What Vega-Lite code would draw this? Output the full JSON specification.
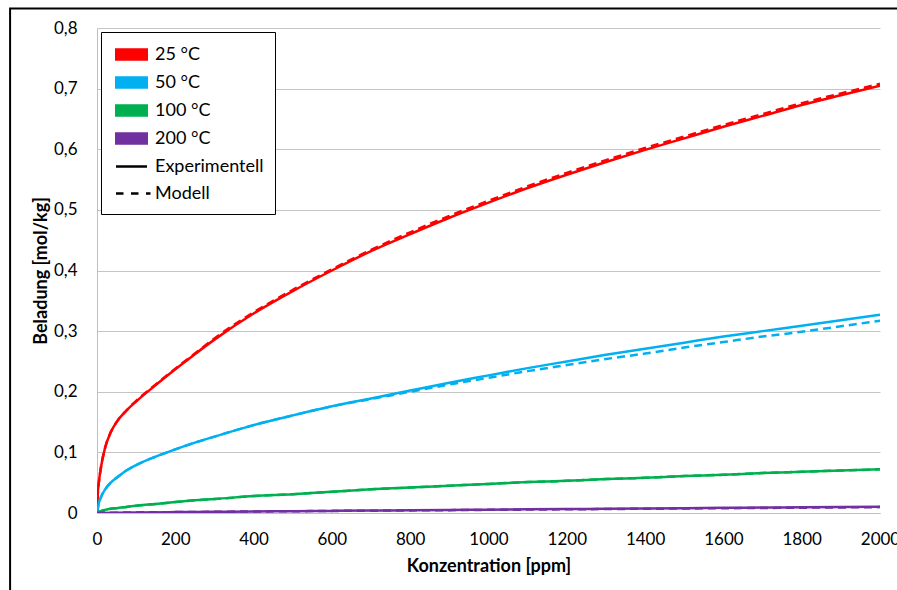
{
  "$schema": "https://vega.github.io/schema/vega-lite/v6.json",
  "width": 783,
  "height": 485,
  "autosize": "none",
  "padding": {"left": 97, "top": 28, "right": 17, "bottom": 77},
  "background": "white",
  "config": {
    "view": {"stroke": null},
    "font": "Lato",
    "axis": {
      "labelFont": "Lato",
      "labelFontSize": 17,
      "labelColor": "#000000",
      "titleFont": "Lato",
      "titleFontSize": 18,
      "titleFontWeight": "bold",
      "titleColor": "#000000",
      "ticks": false,
      "domainColor": "#bfbfbf",
      "domainWidth": 1,
      "gridColor": "#c4c4c4",
      "gridWidth": 1
    }
  },
  "datasets": {
    "kurven": [
      {"c": 0, "q": 0, "T": "25 °C", "typ": "Experimentell"},
      {"c": 2, "q": 0.032, "T": "25 °C", "typ": "Experimentell"},
      {"c": 5, "q": 0.052, "T": "25 °C", "typ": "Experimentell"},
      {"c": 10, "q": 0.075, "T": "25 °C", "typ": "Experimentell"},
      {"c": 20, "q": 0.106, "T": "25 °C", "typ": "Experimentell"},
      {"c": 35, "q": 0.133, "T": "25 °C", "typ": "Experimentell"},
      {"c": 50, "q": 0.15, "T": "25 °C", "typ": "Experimentell"},
      {"c": 75, "q": 0.169, "T": "25 °C", "typ": "Experimentell"},
      {"c": 100, "q": 0.184, "T": "25 °C", "typ": "Experimentell"},
      {"c": 150, "q": 0.211, "T": "25 °C", "typ": "Experimentell"},
      {"c": 200, "q": 0.237, "T": "25 °C", "typ": "Experimentell"},
      {"c": 250, "q": 0.262, "T": "25 °C", "typ": "Experimentell"},
      {"c": 300, "q": 0.286, "T": "25 °C", "typ": "Experimentell"},
      {"c": 400, "q": 0.329, "T": "25 °C", "typ": "Experimentell"},
      {"c": 500, "q": 0.366, "T": "25 °C", "typ": "Experimentell"},
      {"c": 600, "q": 0.4, "T": "25 °C", "typ": "Experimentell"},
      {"c": 700, "q": 0.432, "T": "25 °C", "typ": "Experimentell"},
      {"c": 800, "q": 0.46, "T": "25 °C", "typ": "Experimentell"},
      {"c": 900, "q": 0.487, "T": "25 °C", "typ": "Experimentell"},
      {"c": 1000, "q": 0.512, "T": "25 °C", "typ": "Experimentell"},
      {"c": 1100, "q": 0.536, "T": "25 °C", "typ": "Experimentell"},
      {"c": 1200, "q": 0.558, "T": "25 °C", "typ": "Experimentell"},
      {"c": 1300, "q": 0.579, "T": "25 °C", "typ": "Experimentell"},
      {"c": 1400, "q": 0.599, "T": "25 °C", "typ": "Experimentell"},
      {"c": 1500, "q": 0.618, "T": "25 °C", "typ": "Experimentell"},
      {"c": 1600, "q": 0.637, "T": "25 °C", "typ": "Experimentell"},
      {"c": 1700, "q": 0.655, "T": "25 °C", "typ": "Experimentell"},
      {"c": 1800, "q": 0.673, "T": "25 °C", "typ": "Experimentell"},
      {"c": 1900, "q": 0.689, "T": "25 °C", "typ": "Experimentell"},
      {"c": 2000, "q": 0.705, "T": "25 °C", "typ": "Experimentell"},

      {"c": 0, "q": 0, "T": "50 °C", "typ": "Experimentell"},
      {"c": 5, "q": 0.017, "T": "50 °C", "typ": "Experimentell"},
      {"c": 10, "q": 0.026, "T": "50 °C", "typ": "Experimentell"},
      {"c": 20, "q": 0.038, "T": "50 °C", "typ": "Experimentell"},
      {"c": 35, "q": 0.05, "T": "50 °C", "typ": "Experimentell"},
      {"c": 50, "q": 0.058, "T": "50 °C", "typ": "Experimentell"},
      {"c": 75, "q": 0.07, "T": "50 °C", "typ": "Experimentell"},
      {"c": 100, "q": 0.079, "T": "50 °C", "typ": "Experimentell"},
      {"c": 150, "q": 0.093, "T": "50 °C", "typ": "Experimentell"},
      {"c": 200, "q": 0.105, "T": "50 °C", "typ": "Experimentell"},
      {"c": 250, "q": 0.116, "T": "50 °C", "typ": "Experimentell"},
      {"c": 300, "q": 0.126, "T": "50 °C", "typ": "Experimentell"},
      {"c": 400, "q": 0.145, "T": "50 °C", "typ": "Experimentell"},
      {"c": 500, "q": 0.161, "T": "50 °C", "typ": "Experimentell"},
      {"c": 600, "q": 0.176, "T": "50 °C", "typ": "Experimentell"},
      {"c": 700, "q": 0.189, "T": "50 °C", "typ": "Experimentell"},
      {"c": 800, "q": 0.202, "T": "50 °C", "typ": "Experimentell"},
      {"c": 900, "q": 0.215, "T": "50 °C", "typ": "Experimentell"},
      {"c": 1000, "q": 0.227, "T": "50 °C", "typ": "Experimentell"},
      {"c": 1100, "q": 0.239, "T": "50 °C", "typ": "Experimentell"},
      {"c": 1200, "q": 0.25, "T": "50 °C", "typ": "Experimentell"},
      {"c": 1300, "q": 0.261, "T": "50 °C", "typ": "Experimentell"},
      {"c": 1400, "q": 0.271, "T": "50 °C", "typ": "Experimentell"},
      {"c": 1500, "q": 0.281, "T": "50 °C", "typ": "Experimentell"},
      {"c": 1600, "q": 0.291, "T": "50 °C", "typ": "Experimentell"},
      {"c": 1700, "q": 0.3, "T": "50 °C", "typ": "Experimentell"},
      {"c": 1800, "q": 0.309, "T": "50 °C", "typ": "Experimentell"},
      {"c": 1900, "q": 0.318, "T": "50 °C", "typ": "Experimentell"},
      {"c": 2000, "q": 0.327, "T": "50 °C", "typ": "Experimentell"},

      {"c": 0, "q": 0, "T": "100 °C", "typ": "Experimentell"},
      {"c": 5, "q": 0.002, "T": "100 °C", "typ": "Experimentell"},
      {"c": 10, "q": 0.003, "T": "100 °C", "typ": "Experimentell"},
      {"c": 20, "q": 0.005, "T": "100 °C", "typ": "Experimentell"},
      {"c": 35, "q": 0.007, "T": "100 °C", "typ": "Experimentell"},
      {"c": 50, "q": 0.008, "T": "100 °C", "typ": "Experimentell"},
      {"c": 75, "q": 0.01, "T": "100 °C", "typ": "Experimentell"},
      {"c": 100, "q": 0.012, "T": "100 °C", "typ": "Experimentell"},
      {"c": 150, "q": 0.015, "T": "100 °C", "typ": "Experimentell"},
      {"c": 200, "q": 0.018, "T": "100 °C", "typ": "Experimentell"},
      {"c": 250, "q": 0.021, "T": "100 °C", "typ": "Experimentell"},
      {"c": 300, "q": 0.023, "T": "100 °C", "typ": "Experimentell"},
      {"c": 400, "q": 0.028, "T": "100 °C", "typ": "Experimentell"},
      {"c": 500, "q": 0.031, "T": "100 °C", "typ": "Experimentell"},
      {"c": 600, "q": 0.035, "T": "100 °C", "typ": "Experimentell"},
      {"c": 700, "q": 0.039, "T": "100 °C", "typ": "Experimentell"},
      {"c": 800, "q": 0.042, "T": "100 °C", "typ": "Experimentell"},
      {"c": 900, "q": 0.045, "T": "100 °C", "typ": "Experimentell"},
      {"c": 1000, "q": 0.048, "T": "100 °C", "typ": "Experimentell"},
      {"c": 1100, "q": 0.051, "T": "100 °C", "typ": "Experimentell"},
      {"c": 1200, "q": 0.053, "T": "100 °C", "typ": "Experimentell"},
      {"c": 1300, "q": 0.056, "T": "100 °C", "typ": "Experimentell"},
      {"c": 1400, "q": 0.058, "T": "100 °C", "typ": "Experimentell"},
      {"c": 1500, "q": 0.061, "T": "100 °C", "typ": "Experimentell"},
      {"c": 1600, "q": 0.063, "T": "100 °C", "typ": "Experimentell"},
      {"c": 1700, "q": 0.066, "T": "100 °C", "typ": "Experimentell"},
      {"c": 1800, "q": 0.068, "T": "100 °C", "typ": "Experimentell"},
      {"c": 1900, "q": 0.07, "T": "100 °C", "typ": "Experimentell"},
      {"c": 2000, "q": 0.072, "T": "100 °C", "typ": "Experimentell"},

      {"c": 0, "q": 0, "T": "200 °C", "typ": "Experimentell"},
      {"c": 50, "q": 0.0005, "T": "200 °C", "typ": "Experimentell"},
      {"c": 100, "q": 0.0009, "T": "200 °C", "typ": "Experimentell"},
      {"c": 200, "q": 0.0015, "T": "200 °C", "typ": "Experimentell"},
      {"c": 300, "q": 0.002, "T": "200 °C", "typ": "Experimentell"},
      {"c": 400, "q": 0.0026, "T": "200 °C", "typ": "Experimentell"},
      {"c": 500, "q": 0.003, "T": "200 °C", "typ": "Experimentell"},
      {"c": 600, "q": 0.0035, "T": "200 °C", "typ": "Experimentell"},
      {"c": 700, "q": 0.004, "T": "200 °C", "typ": "Experimentell"},
      {"c": 800, "q": 0.0045, "T": "200 °C", "typ": "Experimentell"},
      {"c": 900, "q": 0.005, "T": "200 °C", "typ": "Experimentell"},
      {"c": 1000, "q": 0.0055, "T": "200 °C", "typ": "Experimentell"},
      {"c": 1100, "q": 0.006, "T": "200 °C", "typ": "Experimentell"},
      {"c": 1200, "q": 0.0065, "T": "200 °C", "typ": "Experimentell"},
      {"c": 1300, "q": 0.007, "T": "200 °C", "typ": "Experimentell"},
      {"c": 1400, "q": 0.0075, "T": "200 °C", "typ": "Experimentell"},
      {"c": 1500, "q": 0.008, "T": "200 °C", "typ": "Experimentell"},
      {"c": 1600, "q": 0.0085, "T": "200 °C", "typ": "Experimentell"},
      {"c": 1700, "q": 0.009, "T": "200 °C", "typ": "Experimentell"},
      {"c": 1800, "q": 0.0095, "T": "200 °C", "typ": "Experimentell"},
      {"c": 1900, "q": 0.01, "T": "200 °C", "typ": "Experimentell"},
      {"c": 2000, "q": 0.0105, "T": "200 °C", "typ": "Experimentell"},

      {"c": 0, "q": 0, "T": "25 °C", "typ": "Modell"},
      {"c": 2, "q": 0.032, "T": "25 °C", "typ": "Modell"},
      {"c": 5, "q": 0.052, "T": "25 °C", "typ": "Modell"},
      {"c": 10, "q": 0.075, "T": "25 °C", "typ": "Modell"},
      {"c": 20, "q": 0.106, "T": "25 °C", "typ": "Modell"},
      {"c": 35, "q": 0.133, "T": "25 °C", "typ": "Modell"},
      {"c": 50, "q": 0.15, "T": "25 °C", "typ": "Modell"},
      {"c": 75, "q": 0.169, "T": "25 °C", "typ": "Modell"},
      {"c": 100, "q": 0.185, "T": "25 °C", "typ": "Modell"},
      {"c": 150, "q": 0.212, "T": "25 °C", "typ": "Modell"},
      {"c": 200, "q": 0.238, "T": "25 °C", "typ": "Modell"},
      {"c": 250, "q": 0.263, "T": "25 °C", "typ": "Modell"},
      {"c": 300, "q": 0.288, "T": "25 °C", "typ": "Modell"},
      {"c": 400, "q": 0.331, "T": "25 °C", "typ": "Modell"},
      {"c": 500, "q": 0.368, "T": "25 °C", "typ": "Modell"},
      {"c": 600, "q": 0.402, "T": "25 °C", "typ": "Modell"},
      {"c": 700, "q": 0.434, "T": "25 °C", "typ": "Modell"},
      {"c": 800, "q": 0.463, "T": "25 °C", "typ": "Modell"},
      {"c": 900, "q": 0.49, "T": "25 °C", "typ": "Modell"},
      {"c": 1000, "q": 0.515, "T": "25 °C", "typ": "Modell"},
      {"c": 1100, "q": 0.539, "T": "25 °C", "typ": "Modell"},
      {"c": 1200, "q": 0.561, "T": "25 °C", "typ": "Modell"},
      {"c": 1300, "q": 0.582, "T": "25 °C", "typ": "Modell"},
      {"c": 1400, "q": 0.602, "T": "25 °C", "typ": "Modell"},
      {"c": 1500, "q": 0.621, "T": "25 °C", "typ": "Modell"},
      {"c": 1600, "q": 0.64, "T": "25 °C", "typ": "Modell"},
      {"c": 1700, "q": 0.658, "T": "25 °C", "typ": "Modell"},
      {"c": 1800, "q": 0.676, "T": "25 °C", "typ": "Modell"},
      {"c": 1900, "q": 0.692, "T": "25 °C", "typ": "Modell"},
      {"c": 2000, "q": 0.708, "T": "25 °C", "typ": "Modell"},

      {"c": 0, "q": 0, "T": "50 °C", "typ": "Modell"},
      {"c": 5, "q": 0.017, "T": "50 °C", "typ": "Modell"},
      {"c": 10, "q": 0.026, "T": "50 °C", "typ": "Modell"},
      {"c": 20, "q": 0.038, "T": "50 °C", "typ": "Modell"},
      {"c": 35, "q": 0.05, "T": "50 °C", "typ": "Modell"},
      {"c": 50, "q": 0.058, "T": "50 °C", "typ": "Modell"},
      {"c": 75, "q": 0.07, "T": "50 °C", "typ": "Modell"},
      {"c": 100, "q": 0.079, "T": "50 °C", "typ": "Modell"},
      {"c": 150, "q": 0.093, "T": "50 °C", "typ": "Modell"},
      {"c": 200, "q": 0.105, "T": "50 °C", "typ": "Modell"},
      {"c": 250, "q": 0.116, "T": "50 °C", "typ": "Modell"},
      {"c": 300, "q": 0.126, "T": "50 °C", "typ": "Modell"},
      {"c": 400, "q": 0.145, "T": "50 °C", "typ": "Modell"},
      {"c": 500, "q": 0.161, "T": "50 °C", "typ": "Modell"},
      {"c": 600, "q": 0.176, "T": "50 °C", "typ": "Modell"},
      {"c": 700, "q": 0.188, "T": "50 °C", "typ": "Modell"},
      {"c": 800, "q": 0.2, "T": "50 °C", "typ": "Modell"},
      {"c": 900, "q": 0.212, "T": "50 °C", "typ": "Modell"},
      {"c": 1000, "q": 0.223, "T": "50 °C", "typ": "Modell"},
      {"c": 1100, "q": 0.234, "T": "50 °C", "typ": "Modell"},
      {"c": 1200, "q": 0.244, "T": "50 °C", "typ": "Modell"},
      {"c": 1300, "q": 0.254, "T": "50 °C", "typ": "Modell"},
      {"c": 1400, "q": 0.263, "T": "50 °C", "typ": "Modell"},
      {"c": 1500, "q": 0.273, "T": "50 °C", "typ": "Modell"},
      {"c": 1600, "q": 0.282, "T": "50 °C", "typ": "Modell"},
      {"c": 1700, "q": 0.291, "T": "50 °C", "typ": "Modell"},
      {"c": 1800, "q": 0.299, "T": "50 °C", "typ": "Modell"},
      {"c": 1900, "q": 0.308, "T": "50 °C", "typ": "Modell"},
      {"c": 2000, "q": 0.317, "T": "50 °C", "typ": "Modell"},

      {"c": 0, "q": 0, "T": "100 °C", "typ": "Modell"},
      {"c": 5, "q": 0.002, "T": "100 °C", "typ": "Modell"},
      {"c": 10, "q": 0.003, "T": "100 °C", "typ": "Modell"},
      {"c": 20, "q": 0.005, "T": "100 °C", "typ": "Modell"},
      {"c": 35, "q": 0.007, "T": "100 °C", "typ": "Modell"},
      {"c": 50, "q": 0.008, "T": "100 °C", "typ": "Modell"},
      {"c": 75, "q": 0.01, "T": "100 °C", "typ": "Modell"},
      {"c": 100, "q": 0.012, "T": "100 °C", "typ": "Modell"},
      {"c": 150, "q": 0.015, "T": "100 °C", "typ": "Modell"},
      {"c": 200, "q": 0.018, "T": "100 °C", "typ": "Modell"},
      {"c": 250, "q": 0.021, "T": "100 °C", "typ": "Modell"},
      {"c": 300, "q": 0.023, "T": "100 °C", "typ": "Modell"},
      {"c": 400, "q": 0.028, "T": "100 °C", "typ": "Modell"},
      {"c": 500, "q": 0.031, "T": "100 °C", "typ": "Modell"},
      {"c": 600, "q": 0.035, "T": "100 °C", "typ": "Modell"},
      {"c": 700, "q": 0.039, "T": "100 °C", "typ": "Modell"},
      {"c": 800, "q": 0.042, "T": "100 °C", "typ": "Modell"},
      {"c": 900, "q": 0.045, "T": "100 °C", "typ": "Modell"},
      {"c": 1000, "q": 0.048, "T": "100 °C", "typ": "Modell"},
      {"c": 1100, "q": 0.051, "T": "100 °C", "typ": "Modell"},
      {"c": 1200, "q": 0.053, "T": "100 °C", "typ": "Modell"},
      {"c": 1300, "q": 0.056, "T": "100 °C", "typ": "Modell"},
      {"c": 1400, "q": 0.058, "T": "100 °C", "typ": "Modell"},
      {"c": 1500, "q": 0.061, "T": "100 °C", "typ": "Modell"},
      {"c": 1600, "q": 0.063, "T": "100 °C", "typ": "Modell"},
      {"c": 1700, "q": 0.066, "T": "100 °C", "typ": "Modell"},
      {"c": 1800, "q": 0.068, "T": "100 °C", "typ": "Modell"},
      {"c": 1900, "q": 0.07, "T": "100 °C", "typ": "Modell"},
      {"c": 2000, "q": 0.072, "T": "100 °C", "typ": "Modell"},

      {"c": 0, "q": 0, "T": "200 °C", "typ": "Modell"},
      {"c": 50, "q": 0.0005, "T": "200 °C", "typ": "Modell"},
      {"c": 100, "q": 0.0009, "T": "200 °C", "typ": "Modell"},
      {"c": 200, "q": 0.0015, "T": "200 °C", "typ": "Modell"},
      {"c": 300, "q": 0.002, "T": "200 °C", "typ": "Modell"},
      {"c": 400, "q": 0.0025, "T": "200 °C", "typ": "Modell"},
      {"c": 500, "q": 0.0029, "T": "200 °C", "typ": "Modell"},
      {"c": 600, "q": 0.0034, "T": "200 °C", "typ": "Modell"},
      {"c": 700, "q": 0.0038, "T": "200 °C", "typ": "Modell"},
      {"c": 800, "q": 0.0043, "T": "200 °C", "typ": "Modell"},
      {"c": 900, "q": 0.0047, "T": "200 °C", "typ": "Modell"},
      {"c": 1000, "q": 0.0052, "T": "200 °C", "typ": "Modell"},
      {"c": 1100, "q": 0.0056, "T": "200 °C", "typ": "Modell"},
      {"c": 1200, "q": 0.0061, "T": "200 °C", "typ": "Modell"},
      {"c": 1300, "q": 0.0065, "T": "200 °C", "typ": "Modell"},
      {"c": 1400, "q": 0.007, "T": "200 °C", "typ": "Modell"},
      {"c": 1500, "q": 0.0074, "T": "200 °C", "typ": "Modell"},
      {"c": 1600, "q": 0.0079, "T": "200 °C", "typ": "Modell"},
      {"c": 1700, "q": 0.0083, "T": "200 °C", "typ": "Modell"},
      {"c": 1800, "q": 0.0088, "T": "200 °C", "typ": "Modell"},
      {"c": 1900, "q": 0.0092, "T": "200 °C", "typ": "Modell"},
      {"c": 2000, "q": 0.0097, "T": "200 °C", "typ": "Modell"}
    ]
  },
  "layer": [
    {
      "data": {"values": [{}]},
      "mark": {"type": "rect", "clip": false, "filled": false, "stroke": "#000000", "strokeWidth": 2},
      "encoding": {
        "x": {"datum": -222, "type": "quantitative", "scale": {"domain": [0, 2000], "nice": false, "zero": false}},
        "x2": {"datum": 2400},
        "y": {"datum": 0.832, "type": "quantitative", "scale": {"domain": [0, 0.8], "nice": false, "zero": false}},
        "y2": {"datum": -0.3}
      }
    },
    {
      "data": {"name": "kurven"},
      "transform": [{"filter": "datum.typ == 'Experimentell'"}],
      "mark": {"type": "line", "strokeWidth": 2.5, "interpolate": "monotone", "clip": true},
      "encoding": {
        "x": {
          "field": "c", "type": "quantitative",
          "axis": {
            "title": "Konzentration [ppm]",
            "values": [0, 200, 400, 600, 800, 1000, 1200, 1400, 1600, 1800, 2000],
            "format": "d",
            "grid": false,
            "labelPadding": 18,
            "titlePadding": 10,
            "labelOverlap": false,
            "labelFlush": false
          }
        },
        "y": {
          "field": "q", "type": "quantitative",
          "axis": {
            "title": "Beladung [mol/kg]",
            "values": [0, 0.1, 0.2, 0.3, 0.4, 0.5, 0.6, 0.7, 0.8],
            "labelExpr": "datum.value == 0 ? '0' : replace(format(datum.value, '.1f'), '.', ',')",
            "grid": true,
            "labelPadding": 20,
            "titlePadding": 3,
            "labelOverlap": false,
            "labelFlush": false
          }
        },
        "color": {
          "field": "T", "type": "nominal",
          "scale": {"domain": ["25 °C", "50 °C", "100 °C", "200 °C"], "range": ["#ff0000", "#00b0f0", "#00b050", "#7030a0"]},
          "legend": null
        },
        "order": {"field": "c", "type": "quantitative"}
      }
    },
    {
      "data": {"name": "kurven"},
      "transform": [{"filter": "datum.typ == 'Modell'"}],
      "mark": {"type": "line", "strokeWidth": 2.5, "strokeDash": [8, 5], "interpolate": "monotone", "clip": true},
      "encoding": {
        "x": {"field": "c", "type": "quantitative"},
        "y": {"field": "q", "type": "quantitative"},
        "color": {"field": "T", "type": "nominal", "legend": null},
        "order": {"field": "c", "type": "quantitative"}
      }
    },
    {
      "data": {"values": []},
      "mark": {"type": "point", "filled": false, "opacity": 1},
      "encoding": {
        "stroke": {
          "field": "eintrag", "type": "nominal",
          "scale": {
            "domain": ["25 °C", "50 °C", "100 °C", "200 °C", "Experimentell", "Modell"],
            "range": ["#ff0000", "#00b0f0", "#00b050", "#7030a0", "#000000", "#000000"]
          },
          "legend": {
            "title": null,
            "orient": "none",
            "legendX": 4,
            "legendY": 4,
            "strokeColor": "#000000",
            "fillColor": "#ffffff",
            "padding": 11,
            "symbolSize": 400,
            "symbolStrokeWidth": 2.5,
            "symbolOpacity": 1,
            "symbolOffset": 8,
            "labelOffset": 12,
            "labelFont": "Lato",
            "labelFontSize": 18,
            "labelColor": "#000000",
            "rowPadding": 6
          }
        },
        "shape": {
          "field": "eintrag", "type": "nominal",
          "scale": {
            "domain": ["25 °C", "50 °C", "100 °C", "200 °C", "Experimentell", "Modell"],
            "range": [
              "M-1.65,-0.5H1.65M-1.65,-0.333H1.65M-1.65,-0.167H1.65M-1.65,0H1.65M-1.65,0.167H1.65M-1.65,0.333H1.65M-1.65,0.5H1.65",
              "M-1.65,-0.5H1.65M-1.65,-0.333H1.65M-1.65,-0.167H1.65M-1.65,0H1.65M-1.65,0.167H1.65M-1.65,0.333H1.65M-1.65,0.5H1.65",
              "M-1.65,-0.5H1.65M-1.65,-0.333H1.65M-1.65,-0.167H1.65M-1.65,0H1.65M-1.65,0.167H1.65M-1.65,0.333H1.65M-1.65,0.5H1.65",
              "M-1.65,-0.5H1.65M-1.65,-0.333H1.65M-1.65,-0.167H1.65M-1.65,0H1.65M-1.65,0.167H1.65M-1.65,0.333H1.65M-1.65,0.5H1.65",
              "M-1.55,0H1.55",
              "M-1.55,0H1.9"
            ]
          }
        },
        "strokeDash": {
          "field": "eintrag", "type": "nominal",
          "scale": {
            "domain": ["25 °C", "50 °C", "100 °C", "200 °C", "Experimentell", "Modell"],
            "range": [[1, 0], [1, 0], [1, 0], [1, 0], [1, 0], [7.5, 7.5]]
          }
        }
      }
    }
  ]
}
